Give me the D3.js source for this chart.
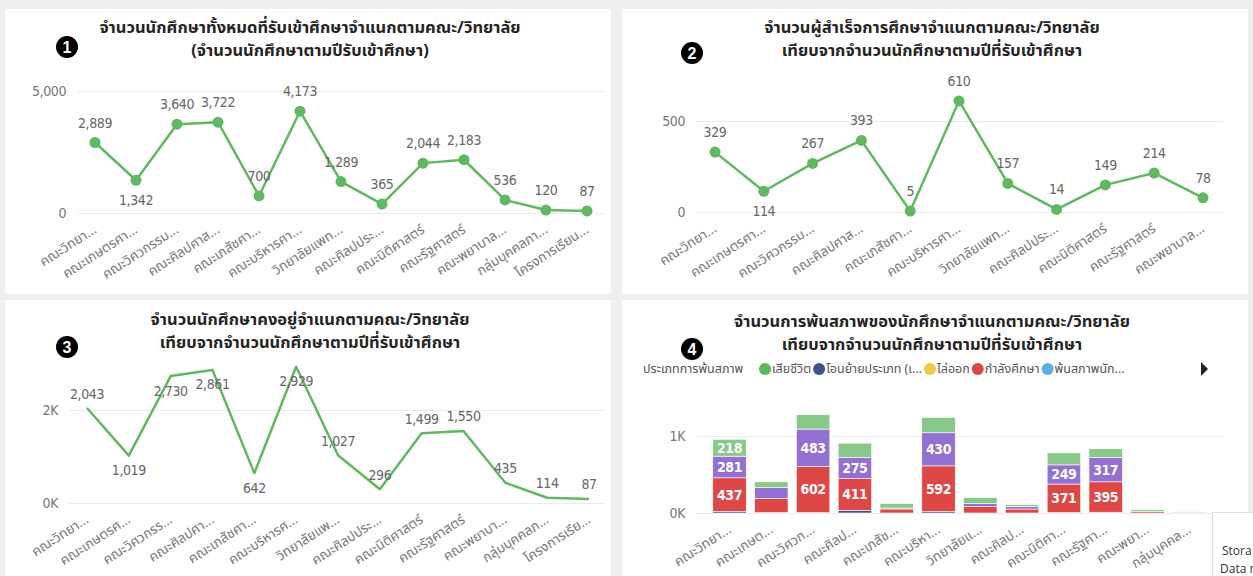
<!DOCTYPE html>
<html>
<head>
<meta charset="utf-8">
<script src="https://cdn.jsdelivr.net/npm/d3@7"></script>
<style>
  body { margin: 0; background: #eef0f0; }
  svg { display: block; }
  .num { font-family: "Liberation Sans Narrow", "DejaVu Sans Condensed", Roboto, sans-serif; letter-spacing: -0.4px; }
  .thai { font-family: Tahoma, "Noto Sans Thai", "Noto Sans Thai UI", Loma, Garuda, "Noto Sans", sans-serif; }
</style>
</head>
<body>
<div id="plot_area"></div>
<script>
// categories (full names) and the labels the axis actually shows
var faculties = ["คณะวิทยาศาสตร์","คณะเกษตรศาสตร์","คณะวิศวกรรมศาสตร์","คณะศิลปศาสตร์","คณะเภสัชศาสตร์",
  "คณะบริหารศาสตร์","วิทยาลัยแพทยศาสตร์และการสาธารณสุข","คณะศิลปประยุกต์และการออกแบบ","คณะนิติศาสตร์",
  "คณะรัฐศาสตร์","คณะพยาบาลศาสตร์","กลุ่มบุคคลภายนอก","โครงการเรียนร่วมหลักสูตร"]
var labels1 = ["คณะวิทยา...","คณะเกษตรศา...","คณะวิศวกรรม...","คณะศิลปศาส...","คณะเภสัชศา...","คณะบริหารศา...",
  "วิทยาลัยแพท...","คณะศิลปประ...","คณะนิติศาสตร์","คณะรัฐศาสตร์","คณะพยาบาล...","กลุ่มบุคคลภา...","โครงการเรียน..."]
var labels3 = ["คณะวิทยา...","คณะเกษตรศ...","คณะวิศวกรร...","คณะศิลปศา...","คณะเภสัชศา...","คณะบริหารศ...",
  "วิทยาลัยแพ...","คณะศิลปประ...","คณะนิติศาสตร์","คณะรัฐศาสตร์","คณะพยาบา...","กลุ่มบุคคลภ...","โครงการเรีย..."]
var labels4 = ["คณะวิทยา...","คณะเกษต...","คณะวิศวก...","คณะศิลป...","คณะเภสัช...","คณะบริหา...",
  "วิทยาลัยแ...","คณะศิลป...","คณะนิติศา...","คณะรัฐศา...","คณะพยา...","กลุ่มบุคคล..."]

// chart 1: admitted students
var admitted = [2889,1342,3640,3722,700,4173,1289,365,2044,2183,536,120,87]
// chart 2: graduates (first 11 faculties)
var graduated = [329,114,267,393,5,610,157,14,149,214,78]
// chart 3: students still enrolled
var remaining = [2043,1019,2730,2861,642,2929,1027,296,1499,1550,435,114,87]

// chart 4: leaving status, stacked (first 12 faculties)
var statusNames = ["เสียชีวิต","โอนย้ายประเภท (เปลี่ยนสถานภาพ)","ไล่ออก","กำลังศึกษา","พ้นสภาพนักศึกษา","ลาออก","สำเร็จการศึกษา"]
var statusLegend = ["เสียชีวิต","โอนย้ายประเภท (เ...","ไล่ออก","กำลังศึกษา","พ้นสภาพนัก..."]
var deceased    = [0,0,0,0,0,0,0,0,0,0,0,0]
var transferred = [20,5,5,35,0,20,0,0,5,10,0,0]
var expelled    = [0,0,0,0,0,0,0,0,0,0,0,0]
var studying    = [437,186,602,411,52,592,87,52,371,395,20,8]
var dismissed   = [0,0,0,0,0,0,0,0,0,0,0,0]
var resigned    = [281,138,483,275,13,430,35,35,249,317,0,6]
var completed   = [218,76,186,186,56,200,78,22,156,112,22,0]

var green = "#62b862"
var statusColors = ["#5cb85c","#3e5190","#f2c84b","#dd4847","#5aafe3","#9370d2","#88c888"]

var W = 1253, H = 576
var svg = d3.select("#plot_area").append("svg").attr("width", W).attr("height", H)

// white panels
var panels = [
  {x: 5, y: 9, w: 606, h: 285},
  {x: 622, y: 9, w: 626, h: 285},
  {x: 5, y: 300, w: 606, h: 280},
  {x: 622, y: 300, w: 626, h: 280}
]
svg.selectAll(".panel").data(panels).enter().append("rect")
  .attr("x", d => d.x).attr("y", d => d.y).attr("width", d => d.w).attr("height", d => d.h)
  .attr("fill", "#fff")

function title(cx, y1, lines, bx, by, n) {
  svg.append("g").attr("class", "thai")
    .style("font-size", "16.5px").style("font-weight", "bold").attr("fill", "#252423")
    .selectAll("text").data(lines).enter().append("text")
      .attr("x", cx).attr("y", (d, i) => y1 + i * 23).attr("text-anchor", "middle").text(d => d)
  svg.append("circle").attr("cx", bx).attr("cy", by).attr("r", 11).attr("fill", "#000")
  svg.append("text").attr("x", bx).attr("y", by + 5.5).attr("text-anchor", "middle")
    .style("font-family", "Arial, sans-serif").style("font-size", "16px").style("font-weight", "bold")
    .attr("fill", "#fff").text(n)
}

function xLabels(g, x, cats, labs, baseY) {
  g.selectAll(".xl").data(cats).enter().append("text").attr("class", "thai")
    .attr("transform", d => "translate(" + (x(d) - 2) + "," + (baseY + 12) + ") rotate(-33)")
    .attr("text-anchor", "end").attr("dy", "0.6em")
    .style("font-size", "13.5px").attr("fill", "#777")
    .text((d, i) => labs[i])
}

function yAxis(g, y, ticks, fmt, lx, gx0, gx1) {
  var ax = g.append("g").attr("transform", "translate(" + gx0 + ",0)")
    .call(d3.axisLeft(y).tickValues(ticks).tickFormat(fmt).tickSize(-(gx1 - gx0)).tickPadding(gx0 - lx))
  ax.select(".domain").remove()
  ax.selectAll(".tick line").attr("stroke", "#ebebeb")
  ax.selectAll(".tick text").attr("class", "num").style("font-size", "14px").attr("fill", "#777")
}

// generic line chart
function lineChart(o) {
  var g = svg.append("g")
  var cats = faculties.slice(0, o.values.length)
  var x = d3.scalePoint().domain(cats).range(o.xr)
  var y = d3.scaleLinear().domain(o.yd).range(o.yr)
  yAxis(g, y, o.ticks, o.fmt, o.lx, o.gx[0], o.gx[1])

  var line = d3.line().x((d, i) => x(cats[i])).y(d => y(d))
  g.append("path").datum(o.values).attr("d", line)
    .attr("fill", "none").attr("stroke", green).attr("stroke-width", 2.5).attr("stroke-linejoin", "round")

  if (o.markers) {
    g.selectAll(".dot").data(o.values).enter().append("circle")
      .attr("cx", (d, i) => x(cats[i])).attr("cy", d => y(d)).attr("r", 5.5).attr("fill", green)
  }

  g.selectAll(".lbl").data(o.values).enter().append("text").attr("class", "num")
    .attr("x", (d, i) => x(cats[i]))
    .attr("y", (d, i) => o.below.indexOf(i) >= 0 ? y(d) + o.off + 5 : y(d) - o.off + 5)
    .attr("text-anchor", "middle").style("font-size", "14px").attr("fill", "#666")
    .text(d => d3.format(",")(d))

  xLabels(g, x, cats, o.labels, o.yr[0])
}

var kFmt = d => (d / 1000) + "K"

title(310, 33, ["จำนวนนักศึกษาทั้งหมดที่รับเข้าศึกษาจำแนกตามคณะ/วิทยาลัย", "(จำนวนนักศึกษาตามปีรับเข้าศึกษา)"], 67, 47, "1")
lineChart({values: admitted, labels: labels1, xr: [95, 587], yd: [0, 5000], yr: [213, 91],
  ticks: [0, 5000], fmt: d3.format(","), lx: 66, gx: [78, 604], markers: true, off: 20, below: [1]})

title(932, 33, ["จำนวนผู้สำเร็จการศึกษาจำแนกตามคณะ/วิทยาลัย", "เทียบจากจำนวนนักศึกษาตามปีที่รับเข้าศึกษา"], 692, 53, "2")
lineChart({values: graduated, labels: labels1, xr: [715, 1203], yd: [0, 500], yr: [212, 121],
  ticks: [0, 500], fmt: d3.format(","), lx: 685, gx: [696, 1223], markers: true, off: 20, below: [1]})

title(310, 325, ["จำนวนนักศึกษาคงอยู่จำแนกตามคณะ/วิทยาลัย", "เทียบจากจำนวนนักศึกษาตามปีที่รับเข้าศึกษา"], 67, 347, "3")
lineChart({values: remaining, labels: labels3, xr: [87, 589], yd: [0, 2000], yr: [503, 410],
  ticks: [0, 2000], fmt: kFmt, lx: 58, gx: [69, 605], markers: false, off: 14.5, below: [1, 2, 3, 4, 5]})

// chart 4: stacked bars
title(932, 327, ["จำนวนการพ้นสภาพของนักศึกษาจำแนกตามคณะ/วิทยาลัย", "เทียบจากจำนวนนักศึกษาตามปีที่รับเข้าศึกษา"], 692, 349, "4")
var g4 = svg.append("g")
var cats4 = faculties.slice(0, 12)
var series4 = [deceased, transferred, expelled, studying, dismissed, resigned, completed]
var rows = cats4.map(function(c, i) {
  var r = {cat: c}
  series4.forEach(function(s, k) { r[statusNames[k]] = s[i] })
  return r
})
var stack = d3.stack().keys(statusNames)(rows)
var x4 = d3.scaleBand().domain(cats4).range([708.6, 1210.2]).paddingInner(0.2).paddingOuter(0.1)
var y4 = d3.scaleLinear().domain([0, 1000]).range([513, 436])
yAxis(g4, y4, [0, 1000], kFmt, 685, 696, 1223)

var layers = g4.selectAll(".layer").data(stack).enter().append("g")
  .attr("fill", (d, k) => statusColors[k])
layers.selectAll("rect").data(d => d).enter().append("rect")
  .attr("x", d => x4(d.data.cat)).attr("width", x4.bandwidth())
  .attr("y", d => y4(d[1])).attr("height", d => y4(d[0]) - y4(d[1]))
  .attr("stroke", "#fff").attr("stroke-width", 0.6)
layers.selectAll(".bl").data(d => d).enter()
  .filter(d => y4(d[0]) - y4(d[1]) >= 16)
  .append("text").attr("class", "num")
    .attr("x", d => x4(d.data.cat) + x4.bandwidth() / 2)
    .attr("y", d => (y4(d[0]) + y4(d[1])) / 2 + 5)
    .attr("text-anchor", "middle").style("font-size", "14px").style("font-weight", "bold")
    .attr("fill", "#fff").text(d => d[1] - d[0])
xLabels(g4, d => x4(d) + x4.bandwidth() / 2, cats4, labels4, 513)

// legend
var lg = svg.append("g").attr("class", "thai").style("font-size", "12.5px")
lg.append("text").attr("x", 643).attr("y", 373).attr("fill", "#555").text("ประเภทการพ้นสภาพ")
var lx = 765
statusLegend.forEach(function(name, k) {
  lg.append("circle").attr("cx", lx).attr("cy", 369).attr("r", 6).attr("fill", statusColors[k])
  var t = lg.append("text").attr("x", lx + 7).attr("y", 373).attr("fill", "#555").text(name)
  lx += t.node().getComputedTextLength() + 15
})
svg.append("path").attr("d", "M1201,362L1208,369L1201,376Z").attr("fill", "#222")

// tooltip box cut off in the corner
svg.append("rect").attr("x", 1212.5).attr("y", 512.5).attr("width", 60).attr("height", 80)
  .attr("fill", "#fff").attr("stroke", "#ddd")
svg.append("text").attr("x", 1222).attr("y", 555).style("font-family", "'Open Sans', sans-serif")
  .style("font-size", "12px").attr("fill", "#333").text("Stora")
svg.append("text").attr("x", 1220).attr("y", 573).style("font-family", "'Open Sans', sans-serif")
  .style("font-size", "12px").attr("fill", "#333").text("Data r")
</script>
</body>
</html>
